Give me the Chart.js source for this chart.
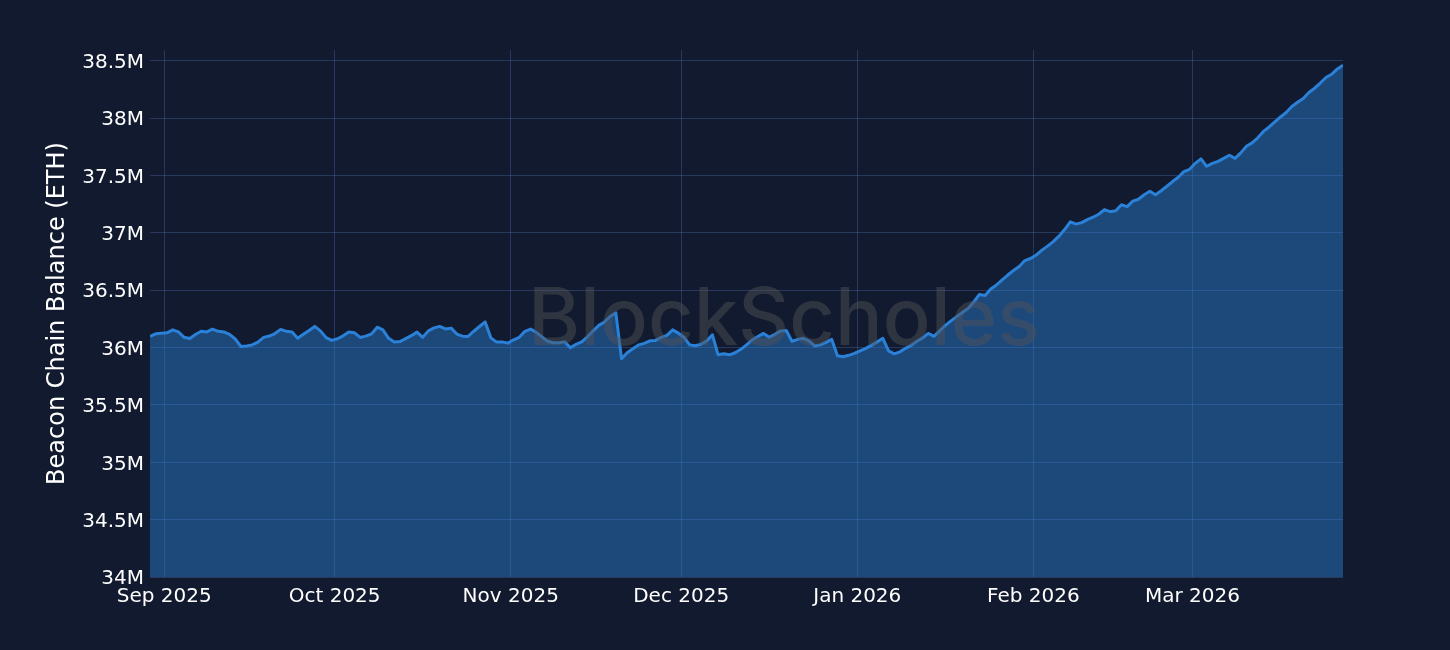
<!DOCTYPE html>
<html>
<head>
<meta charset="utf-8">
<script src="https://cdn.jsdelivr.net/npm/chart.js@4.4.1/dist/chart.umd.min.js"></script>
<style>
html,body{margin:0;padding:0;background:#111a2e;}
canvas{display:block;}
</style>
</head>
<body>
<canvas id="c" width="1450" height="650"></canvas>
<script>
// ---- data ----
const startDate = '2025-08-29';           // first daily sample (values taken at midday)
const balanceM = [                        // Beacon chain balance, millions of ETH
  36.097, 36.120, 36.126, 36.129, 36.155, 36.137, 36.090, 36.080, 36.115, 36.143,
  36.137, 36.161, 36.142, 36.137, 36.116, 36.075, 36.010, 36.014, 36.024, 36.048,
  36.089, 36.101, 36.123, 36.159, 36.142, 36.137, 36.081, 36.116, 36.150, 36.185,
  36.146, 36.087, 36.063, 36.077, 36.103, 36.137, 36.129, 36.089, 36.100, 36.120,
  36.178, 36.155, 36.081, 36.048, 36.053, 36.078, 36.104, 36.135, 36.090, 36.146,
  36.172, 36.185, 36.163, 36.170, 36.118, 36.100, 36.098, 36.143, 36.184, 36.224,
  36.085, 36.048, 36.050, 36.039, 36.068, 36.090, 36.142, 36.162, 36.133, 36.094,
  36.055, 36.042, 36.042, 36.050, 35.998, 36.029, 36.050, 36.094, 36.146, 36.194,
  36.224, 36.272, 36.303, 35.903, 35.955, 35.990, 36.024, 36.037, 36.059, 36.063,
  36.090, 36.107, 36.155, 36.126, 36.090, 36.024, 36.016, 36.029, 36.059, 36.111,
  35.937, 35.946, 35.937, 35.955, 35.985, 36.024, 36.068, 36.097, 36.124, 36.090,
  36.116, 36.146, 36.150, 36.055, 36.072, 36.081, 36.059, 36.016, 36.024, 36.046,
  36.072, 35.929, 35.920, 35.933, 35.950, 35.972, 35.994, 36.020, 36.050, 36.081,
  35.972, 35.946, 35.963, 35.994, 36.020, 36.055, 36.085, 36.124, 36.098, 36.146,
  36.194, 36.233, 36.270, 36.307, 36.342, 36.398, 36.463, 36.455, 36.511, 36.546,
  36.590, 36.633, 36.672, 36.707, 36.759, 36.777, 36.807, 36.850, 36.885, 36.924,
  36.972, 37.029, 37.097, 37.077, 37.090, 37.116, 37.137, 37.163, 37.204, 37.185,
  37.194, 37.246, 37.229, 37.277, 37.294, 37.333, 37.363, 37.333, 37.368, 37.407,
  37.448, 37.485, 37.535, 37.555, 37.607, 37.646, 37.581, 37.607, 37.624, 37.650,
  37.677, 37.650, 37.698, 37.755, 37.785, 37.829, 37.885, 37.924, 37.968, 38.011,
  38.050, 38.103, 38.139, 38.172, 38.224, 38.262, 38.307, 38.355, 38.383, 38.430,
  38.463
];
const monthTickDates = ['2025-09-01','2025-10-01','2025-11-01','2025-12-01','2026-01-01','2026-02-01','2026-03-01'];
const monthTickLabels = ['Sep 2025','Oct 2025','Nov 2025','Dec 2025','Jan 2026','Feb 2026','Mar 2026'];
const yTickValues = [34, 34.5, 35, 35.5, 36, 36.5, 37, 37.5, 38, 38.5];
const yMin = 34, yMax = 38.595;
const yTitle = 'Beacon Chain Balance (ETH)';
const watermarkText = 'BlockScholes';

// ---- helpers ----
const DAY = 86400000;
const ORIGIN = Date.UTC(2025, 8, 1);
function dayOf(iso){
  const [y,m,d] = iso.split('-').map(Number);
  return (Date.UTC(y, m-1, d) - ORIGIN) / DAY;
}
const startDay = dayOf(startDate);
const points = balanceM.map((v, i) => ({x: startDay + i + 0.5, y: v}));
const monthDays = monthTickDates.map(dayOf);

const FONT = 'DejaVu Sans';
const gridColor = 'rgba(75,105,165,0.4)';
const lineColor = '#2b80d8';

const watermarkPlugin = {
  id: 'watermark',
  afterDatasetsDraw(chart){
    const c = chart.ctx;
    c.save();
    let size = 80;
    c.font = `500 ${size}px Inter`;
    const w = c.measureText(watermarkText).width;
    size = size * 512 / w;
    c.font = `500 ${size}px Inter`;
    c.fillStyle = 'rgba(85,85,88,0.45)';
    c.textAlign = 'left';
    c.textBaseline = 'alphabetic';
    c.fillText(watermarkText, 528, 345);
    c.restore();
  }
};

new Chart(document.getElementById('c').getContext('2d'), {
  type: 'line',
  data: {
    datasets: [{
      data: points,
      borderColor: lineColor,
      backgroundColor: 'rgba(43,128,216,0.45)',
      fill: 'start',
      borderWidth: 3,
      pointRadius: 0,
      tension: 0,
      borderJoinStyle: 'round'
    }]
  },
  options: {
    responsive: false,
    animation: false,
    devicePixelRatio: 1,
    layout: {padding: {left: 0, top: 50, right: 107, bottom: 0}},
    plugins: {legend: {display: false}, tooltip: {enabled: false}},
    scales: {
      x: {
        type: 'linear',
        min: points[0].x,
        max: points[points.length - 1].x,
        afterBuildTicks: s => { s.ticks = monthDays.map(v => ({value: v})); },
        afterFit: s => { s.height = 73; },
        grid: {color: gridColor, drawTicks: false, lineWidth: 1},
        border: {display: false},
        ticks: {
          color: '#ffffff',
          font: {family: FONT, size: 20},
          padding: 8,
          maxRotation: 0,
          autoSkip: false,
          callback: v => { const i = monthDays.indexOf(v); return i >= 0 ? monthTickLabels[i] : ''; }
        }
      },
      y: {
        min: yMin,
        max: yMax,
        afterBuildTicks: s => { s.ticks = yTickValues.map(v => ({value: v})); },
        afterFit: s => { s.width = 150; },
        grid: {color: gridColor, drawTicks: false, lineWidth: 1},
        border: {display: false},
        ticks: {
          color: '#ffffff',
          font: {family: FONT, size: 20},
          padding: 6,
          labelOffset: 2,
          callback: v => v + 'M'
        },
        title: {
          display: true,
          text: yTitle,
          color: '#ffffff',
          font: {family: FONT, size: 24},
          padding: {top: 43, bottom: 0}
        }
      }
    }
  },
  plugins: [watermarkPlugin]
});
</script>
</body>
</html>
